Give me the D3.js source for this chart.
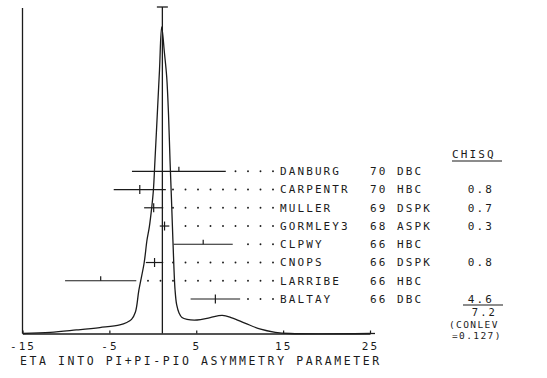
<!DOCTYPE html>
<html>
<head>
<meta charset="utf-8">
<script src="https://cdn.jsdelivr.net/npm/d3@7"></script>
<style>
  body { margin: 0; background: #fff; }
  svg text { font-family: "DejaVu Sans Mono", monospace; fill: #1b1b1b; }
</style>
</head>
<body>
<div class="chart"></div>
<script>
// Measurements (value +- error), experiment year, technique, chi-square contribution
const names = ["DANBURG", "CARPENTR", "MULLER", "GORMLEY3", "CLPWY", "CNOPS", "LARRIBE", "BALTAY"]
const years = ["70", "70", "69", "68", "66", "66", "66", "66"]
const methods = ["DBC", "HBC", "DSPK", "ASPK", "HBC", "DSPK", "HBC", "DBC"]
const values = [3.0, -1.5, 0.1, 1.35, 5.8, 0.2, -6.0, 7.2]
const errors = [5.4, 3.0, 1.1, 0.55, 3.4, 1.0, 4.1, 2.85]
const chisq = [null, "0.8", "0.7", "0.3", null, "0.8", null, "4.6"]

// Weighted average and fit summary
const average = 1.1
const chisqTotal = "7.2"
const conlev = ["(CONLEV", "=0.127)"]

// Ideogram curve (x in asymmetry units, y in arbitrary units)
const curveX = [-15, -11.8, -8.8, -6.1, -3.8, -3.0, -2.45, -2.0, -1.6, -1.0, -0.67, -0.4, -0.13, 0.06, 0.25, 0.54, 0.77, 1.02,
    1.34, 1.6, 1.81, 1.98, 2.15, 2.33, 2.56, 2.75, 3.02, 3.36, 3.94, 5.1, 6.6, 8.0, 9.1, 10.6, 12.3, 14.1, 15.8, 25]
const curveY = [0, 0.35, 1.15, 1.95, 2.8, 3.6, 4.6, 7.0, 14.2, 23.0, 30.5, 34.8, 41.0, 46.5, 56.6, 72.9, 86, 100,
    91.5, 83.7, 71.3, 56.6, 43.6, 29.2, 14.2, 9.3, 6.7, 5.2, 4.6, 4.4, 5.2, 5.9, 5.1, 3.4, 1.5, 0.4, 0, 0]

// Axis
const tickVals = [-15, -5, 5, 15, 25]
const tickLabels = ["-15", "-5", "5", "15", "25"]
const axisTitle = "ETA INTO PI+PI-PIO ASYMMETRY PARAMETER"

const width = 547
const height = 378
const ink = "#1b1b1b"

const svg = d3.select('.chart')
    .append('svg')
    .attr('width', width)
    .attr('height', height)

const x = d3.scaleLinear().domain([-15, 25]).range([22.5, 370])
const y = d3.scaleLinear().domain([0, 100]).range([333.5, 27])
const row = d3.scalePoint().domain(names).range([171.3, 299])

const baseY = y(0)

// left frame line
svg.append('line')
    .attr('x1', x(-15)).attr('x2', x(-15))
    .attr('y1', 8).attr('y2', baseY)
    .attr('stroke', ink).attr('stroke-width', 1.3)

// bottom axis
const xAxis = d3.axisBottom(x)
    .tickValues(tickVals)
    .tickFormat((d, i) => tickLabels[i])
    .tickSizeInner(-3)
    .tickSizeOuter(0)
    .tickPadding(9)

const axisG = svg.append('g')
    .attr('transform', 'translate(0,' + baseY + ')')
    .call(xAxis)

axisG.select('.domain').attr('stroke', ink).attr('stroke-width', 1.3)
axisG.selectAll('.tick line').attr('stroke', ink).attr('stroke-width', 1.2)
axisG.selectAll('.tick text')
    .attr('font-family', '"DejaVu Sans Mono", monospace')
    .attr('font-size', 11)
    .attr('letter-spacing', 2.1)
    .attr('fill', ink)

// axis runs a little past 25
svg.append('line')
    .attr('x1', x(25)).attr('x2', x(25) + 5)
    .attr('y1', baseY).attr('y2', baseY)
    .attr('stroke', ink).attr('stroke-width', 1.3)

svg.append('text')
    .attr('x', 20)
    .attr('y', 365)
    .attr('font-size', 11.5)
    .attr('letter-spacing', 2.6)
    .text(axisTitle)

// ideogram
const line = d3.line()
    .x(d => x(d[0]))
    .y(d => y(d[1]))
    .curve(d3.curveCatmullRom.alpha(0.5))

svg.append('path')
    .datum(d3.zip(curveX, curveY))
    .attr('d', line)
    .attr('fill', 'none')
    .attr('stroke', ink)
    .attr('stroke-width', 1.3)

// average line with cap
svg.append('line')
    .attr('x1', x(average)).attr('x2', x(average))
    .attr('y1', 7).attr('y2', baseY)
    .attr('stroke', ink).attr('stroke-width', 1.3)

svg.append('line')
    .attr('x1', x(average) - 5.5).attr('x2', x(average) + 5.5)
    .attr('y1', 7).attr('y2', 7)
    .attr('stroke', ink).attr('stroke-width', 1.3)

// rows
const labelX = 280
const rows = names.map((n, i) => ({
    name: n, year: years[i], method: methods[i],
    v: values[i], e: errors[i], chi: chisq[i]
}))

const rowG = svg.selectAll('.row')
    .data(rows)
    .enter()
    .append('g')
    .attr('class', 'row')
    .attr('transform', d => 'translate(0,' + row(d.name) + ')')

rowG.append('line')
    .attr('x1', d => x(d.v - d.e))
    .attr('x2', d => x(d.v + d.e))
    .attr('stroke', ink).attr('stroke-width', 1.2)

// excluded measurements get a half tick
rowG.append('line')
    .attr('x1', d => x(d.v)).attr('x2', d => x(d.v))
    .attr('y1', -4.5)
    .attr('y2', d => d.chi ? 4.5 : 0)
    .attr('stroke', ink).attr('stroke-width', 1.2)

// dotted leaders toward the labels
rowG.each(function (d) {
    const barEnd = x(d.v + d.e)
    const dots = d3.range(0, 20)
        .map(k => labelX - 7 - k * 12.5)
        .filter((px, k) => k === 0 || px >= barEnd + 6.5)
    d3.select(this).selectAll('circle')
        .data(dots)
        .enter()
        .append('circle')
        .attr('cx', px => px)
        .attr('cy', 0)
        .attr('r', 0.95)
        .attr('fill', ink)
})

const txt = function (sel) {
    return sel.attr('font-size', 11).attr('letter-spacing', 2.1).attr('y', 3.8)
}

txt(rowG.append('text')).attr('x', labelX).text(d => d.name)
txt(rowG.append('text')).attr('x', 370).text(d => d.year)
txt(rowG.append('text')).attr('x', 397).text(d => d.method)
txt(rowG.append('text'))
    .attr('x', 494)
    .attr('text-anchor', 'end')
    .text(d => d.chi || "")

// chi-square column header and total
svg.append('text')
    .attr('x', 452).attr('y', 157.5)
    .attr('font-size', 11).attr('letter-spacing', 2.1)
    .text("CHISQ")

svg.append('line')
    .attr('x1', 452).attr('x2', 502)
    .attr('y1', 161).attr('y2', 161)
    .attr('stroke', ink).attr('stroke-width', 1.1)

svg.append('line')
    .attr('x1', 463).attr('x2', 503)
    .attr('y1', 305).attr('y2', 305)
    .attr('stroke', ink).attr('stroke-width', 1.1)

svg.append('text')
    .attr('x', 497).attr('y', 316)
    .attr('text-anchor', 'end')
    .attr('font-size', 10.5).attr('letter-spacing', 2.1)
    .text(chisqTotal)

svg.selectAll('.conlev')
    .data(conlev)
    .enter()
    .append('text')
    .attr('class', 'conlev')
    .attr('x', (d, i) => i === 0 ? 449 : 452)
    .attr('y', (d, i) => 327.8 + i * 11.2)
    .attr('font-size', 9.5)
    .attr('letter-spacing', 1.4)
    .text(d => d)
</script>
</body>
</html>
